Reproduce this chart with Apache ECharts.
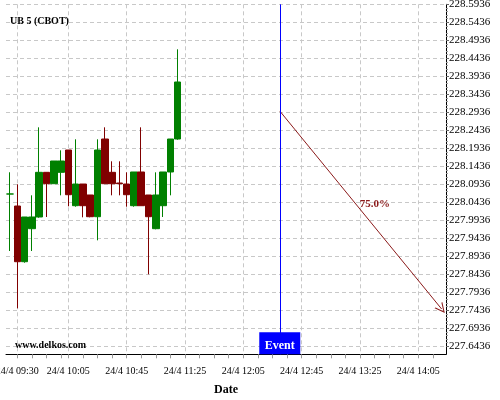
<!DOCTYPE html>
<html><head><meta charset="utf-8">
<script src="https://cdn.jsdelivr.net/npm/echarts@6/dist/echarts.min.js"></script>
<style>html,body{margin:0;padding:0;background:#fff}#c{width:500px;height:400px}</style>
</head><body><div id="c"></div>
<script>
// ---- data ----
const chartTitle = 'UB 5 (CBOT)';
const watermark = 'www.delkos.com';
const xAxisName = 'Date';
const dateLabel = '24/4';
const times  = ['09:25','09:30','09:35','09:40','09:45','09:50','09:55','10:00','10:05','10:10','10:15','10:20','10:25','10:30','10:35','10:40','10:45','10:50','10:55','11:00','11:05','11:10','11:15','11:20'];
const opens  = [228.0667,228.0333,227.8786,227.9703,228.0028,228.1269,228.0953,228.1269,228.1889,228.0342,228.0944,228.0639,228.0036,228.2194,228.1269,228.0972,228.0944,228.0342,228.1278,228.0639,227.9703,228.0342,228.1278,228.2194];
const closes = [228.0667,227.8786,228.0028,228.0028,228.1269,228.0953,228.1583,228.1583,228.0647,228.0944,228.0342,228.0036,228.1889,228.0953,228.0953,228.0953,228.0647,228.1278,228.0342,228.0036,228.0639,228.1278,228.2194,228.3778];
const lows   = [227.9083,227.7492,227.8758,227.9083,228.0008,228.0028,228.0953,228.0630,228.0325,228.0314,228.0019,228.0019,227.9380,228.0953,228.0630,228.0630,228.0314,228.0314,228.0342,227.8436,227.9686,228.0028,228.0630,228.2175];
const highs  = [228.1270,228.0936,228.0028,228.0630,228.2519,228.1269,228.1583,228.1880,228.1889,228.2186,228.0944,228.0639,228.2186,228.2519,228.1575,228.1575,228.1269,228.1278,228.2519,228.0639,228.1269,228.1278,228.2194,228.4686];
const xLabelTimes = ['09:30','10:05','10:45','11:25','12:05','12:45','13:25','14:05'];
const xMinorTimes = ['09:40','09:50','10:00','10:15','10:25','10:35','10:55','11:05','11:15','11:35','11:45','11:55','12:15','12:25','12:35','12:55','13:05','13:15','13:35','13:45','13:55','14:15'];
const yTickLabels = ['227.6436','227.6936','227.7436','227.7936','227.8436','227.8936','227.9436','227.9936','228.0436','228.0936','228.1436','228.1936','228.2436','228.2936','228.3436','228.3936','228.4436','228.4936','228.5436','228.5936'];
const yMin = 227.6214, yMax = 228.5936;
const xMinTime = '09:22:15', xMaxTime = '14:24';
const eventTime = '12:30';
const eventText = 'Event';
const arrowStart = ['12:30', 228.2972];
const arrowEnd   = ['14:21', 227.7472];
const arrowText  = '75.0%';

// ---- helpers ----
function toMin(t){ const p=t.split(':').map(Number); return p[0]*60+p[1]+(p[2]||0)/60-570; }
function fmt(m){ const tot=Math.round(m+570); const h=Math.floor(tot/60), mm=tot%60; return dateLabel+' '+String(h).padStart(2,'0')+':'+String(mm).padStart(2,'0'); }
const FONT = "'Liberation Serif','Times New Roman',serif";
const RED = '#800000', GREEN = '#008000', ARROW = '#8b1a1a';

const candleData = times.map((t,i)=>[toMin(t), opens[i], closes[i], lows[i], highs[i]]);
const yMinor = [];
for (let i=0;i<yTickLabels.length-1;i++){ for(let k=1;k<5;k++) yMinor.push(+(parseFloat(yTickLabels[i])+0.01*k).toFixed(4)); }

const chart = echarts.init(document.getElementById('c'), null, {renderer:'canvas'});
const xMin = toMin(xMinTime), xMax = toMin(xMaxTime);
chart.setOption({
  animation:false,
  backgroundColor:'#fff',
  title:{ text: chartTitle, left: 10, top: 16, padding:0, textStyle:{ fontFamily: FONT, fontSize: 10, fontWeight:'bold', color:'#000' } },
  grid:{ left:6, right:54, top:4.3, bottom:45.7, containLabel:false, outerBoundsMode:'none' },
  xAxis:[{
    type:'value', min:xMin, max:xMax, position:'bottom',
    axisLine:{ show:true, onZero:false, lineStyle:{ color:'#000', width:1 } },
    axisTick:{ show:true, length:4, inside:false, customValues: xLabelTimes.map(toMin), lineStyle:{ color:'#999' } },
    axisLabel:{ customValues: xLabelTimes.map(toMin), formatter: v=>fmt(v), fontFamily:FONT, fontSize:10, color:'#000', margin:12 },
    splitLine:{ show:true, lineStyle:{ color:'#c8c8c8', type:[4,3], width:1 } },
    name: xAxisName, nameLocation:'middle', nameGap:30,
    nameTextStyle:{ fontFamily:FONT, fontSize:12, fontWeight:'bold', color:'#000' }
  },{
    type:'value', min:xMin, max:xMax, position:'bottom', offset:0,
    axisLine:{ show:false, onZero:false }, axisLabel:{ show:false }, splitLine:{ show:false },
    axisTick:{ show:true, length:4, customValues: xMinorTimes.map(toMin), lineStyle:{ color:'#999' } }
  }],
  yAxis:[{
    type:'value', position:'right', min:yMin, max:yMax,
    axisLine:{ show:true, onZero:false, lineStyle:{ color:'#000', width:1 } },
    axisTick:{ show:true, length:3, customValues: yTickLabels.map(Number), lineStyle:{ color:'#666' } },
    axisLabel:{ customValues: yTickLabels.map(Number), formatter: v=>v.toFixed(4), fontFamily:FONT, fontSize:11, color:'#000', margin:3, padding:[4,0,0,0] },
    splitLine:{ show:true, lineStyle:{ color:'#c8c8c8', type:[4,3], width:1 } }
  },{
    type:'value', position:'right', min:yMin, max:yMax, offset:0,
    axisLine:{ show:false, onZero:false }, axisLabel:{ show:false }, splitLine:{ show:false },
    axisTick:{ show:true, length:2, customValues: yMinor, lineStyle:{ color:'#999' } }
  }],
  series:[{
    type:'candlestick', xAxisIndex:0, yAxisIndex:0,
    data: candleData, encode:{ x:0, y:[1,2,3,4] },
    barWidth:7,
    itemStyle:{ color:GREEN, color0:RED, borderColor:GREEN, borderColor0:RED, borderWidth:1 }
  },{
    type:'line', data:[], xAxisIndex:0, yAxisIndex:0,
    markLine:{ silent:true, symbol:'none', label:{show:false},
      lineStyle:{ color:'#0000ff', type:'solid', width:1 },
      data:[{ xAxis: toMin(eventTime) }] }
  },{
    type:'lines', coordinateSystem:'cartesian2d', xAxisIndex:0, yAxisIndex:0,
    symbol:['none','path://M5,0 L10,10 L8.8,10 L5,2.2 L1.2,10 L0,10 Z'], symbolSize:[9,10],
    lineStyle:{ color:ARROW, width:1, opacity:1 },
    data:[{ coords:[[toMin(arrowStart[0]), arrowStart[1]],[toMin(arrowEnd[0]), arrowEnd[1]]] }]
  }]
});

const ex = chart.convertToPixel({xAxisIndex:0}, toMin(eventTime));
const a = chart.convertToPixel({xAxisIndex:0,yAxisIndex:0}, [toMin(arrowStart[0]), arrowStart[1]]);
const b = chart.convertToPixel({xAxisIndex:0,yAxisIndex:0}, [toMin(arrowEnd[0]), arrowEnd[1]]);
const gridBottom = 400-45.7;
chart.setOption({
  graphic:[
    { type:'rect', shape:{ x: ex-20.5, y: gridBottom-22, width:41, height:22 }, style:{ fill:'#0000ff' }, z:100 },
    { type:'text', x: ex, y: gridBottom-8, style:{ text: eventText, fill:'#fff', font:"bold 12px 'Liberation Serif',serif", align:'center', verticalAlign:'middle' }, z:101 },
    { type:'text', x: (a[0]+b[0])/2-1, y: (a[1]+b[1])/2, style:{ text: arrowText, fill:ARROW, font:"bold 11px 'Liberation Serif',serif", align:'left', verticalAlign:'bottom' }, z:101 },
    { type:'text', left: 15, top: 340, style:{ text: watermark, fill:'#000', font:"bold 10px 'Liberation Serif',serif" }, z:101 }
  ]
});
</script></body></html>
